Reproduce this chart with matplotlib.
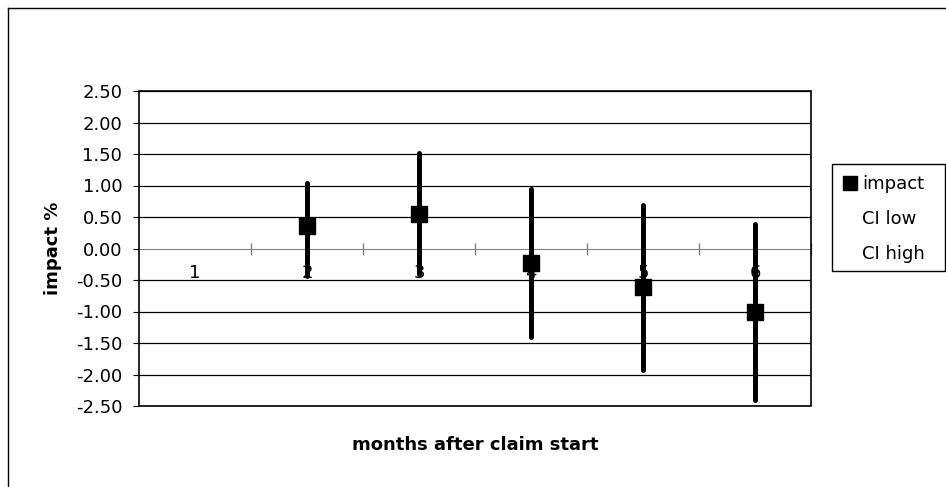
import numpy as np
import matplotlib
matplotlib.use('Agg')
import matplotlib.pyplot as plt
from matplotlib.lines import Line2D
from matplotlib.patches import Rectangle

plt.rcParams['font.family'] = ['DejaVu Sans']

months = [1, 2, 3, 4, 5, 6]
month_labels = ['1', '2', '3', '4', '5', '6']
impact = [np.nan, 0.35, 0.54, -0.23, -0.61, -1.00]
ci_low = [np.nan, -0.43, -0.41, -1.40, -1.93, -2.41]
ci_high = [np.nan, 1.04, 1.51, 0.94, 0.69, 0.39]
y_ticks = [-2.5, -2.0, -1.5, -1.0, -0.5, 0.0, 0.5, 1.0, 1.5, 2.0, 2.5]

FS = 13
W, H = 946, 487
fig = plt.figure(figsize=(W / 100, H / 100), dpi=100)
ax = fig.add_axes([139 / W, 1 - 406 / H, (811 - 139) / W, (406 - 91) / H])

# outer chart border: only top and left edges fall inside the picture
x0, y0 = 7.5 / W, 1 - 7.5 / H
fig.add_artist(Line2D([x0, 1.0], [y0, y0], transform=fig.transFigure, color='black', lw=1))
fig.add_artist(Line2D([x0, x0], [0.0, y0], transform=fig.transFigure, color='black', lw=1))

ax.set_xlim(0.5, 6.5)
ax.set_ylim(-2.5, 2.5)

# horizontal gridlines
for v in y_ticks:
    if v != 0:
        ax.axhline(v, color='black', lw=0.9, zorder=1)

# error bars (CI) and impact markers
for m, lo, hi in zip(months, ci_low, ci_high):
    if not np.isnan(lo):
        ax.plot([m, m], [lo, hi], color='black', lw=3.6, solid_capstyle='round', zorder=3)
ax.plot(months, impact, ls='none', marker='s', ms=11, color='black', zorder=4)

# category axis on the zero line
ax.spines['bottom'].set_position(('data', 0))
ax.spines['bottom'].set_color('#808080')
for s in ['left', 'top', 'right']:
    ax.spines[s].set_visible(False)
ax.add_patch(Rectangle((0, 0), 1, 1, transform=ax.transAxes, fill=False,
                       ec='black', lw=1.2, zorder=5, clip_on=False))

ax.set_xticks(months)
ax.set_xticklabels(month_labels, fontsize=FS)
ax.tick_params(axis='x', which='major', length=0, pad=11)
ax.set_xticks([m + 0.5 for m in months], minor=True)
ax.tick_params(axis='x', which='minor', direction='inout', length=9, color='#808080', width=1)

ax.set_yticks(y_ticks)
ax.set_yticklabels([f'{v:.2f}' for v in y_ticks], fontsize=FS)
ax.tick_params(axis='y', direction='out', length=4, pad=8, color='black')

fig.text(53.5 / W, 1 - 248 / H, 'impact %', fontsize=FS, fontweight='bold',
         rotation=90, ha='center', va='center')
fig.text((139 + 811) / 2 / W, 1 - 445 / H, 'months after claim start', fontsize=FS,
         fontweight='bold', ha='center', va='center')

# legend
fig.patches.append(Rectangle((832 / W, 1 - 271 / H), (945 - 832) / W, (271 - 164) / H,
                             transform=fig.transFigure, fill=False, ec='black', lw=1))
handles = [Line2D([], [], ls='none', marker='s', ms=10, color='black'),
           Line2D([], [], ls='none', marker=None),
           Line2D([], [], ls='none', marker=None)]
fig.legend(handles, ['impact', 'CI low', 'CI high'], loc='upper left',
           bbox_to_anchor=(832 / W, 1 - 164 / H), fontsize=FS, frameon=False,
           handlelength=0.8, handletextpad=0.27, borderpad=0.6, labelspacing=0.95,
           borderaxespad=0)

fig.savefig('out.png', dpi=100)
